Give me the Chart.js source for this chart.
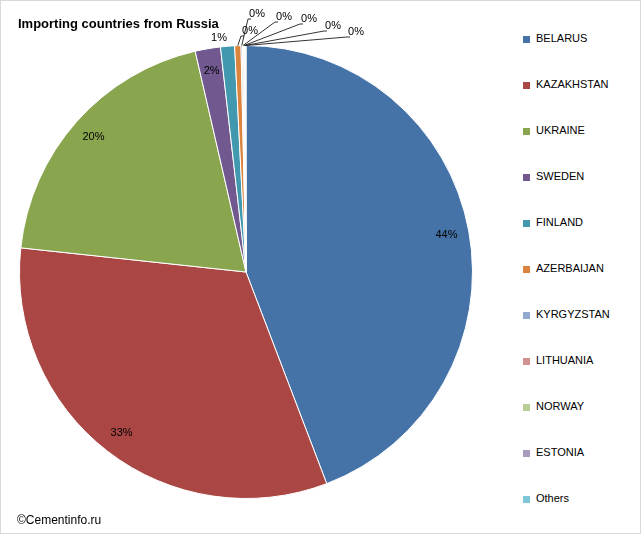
<!DOCTYPE html>
<html><head><meta charset="utf-8">
<script src="https://cdn.jsdelivr.net/npm/chart.js@4"></script>
<style>
body{margin:0;background:#fff;font-family:"Liberation Sans",Arial,sans-serif}
#frame{position:absolute;left:0;top:0;width:639px;height:532px;border:1px solid #d9d9d9}
#wrap{position:absolute;left:0;top:0;width:500px;height:534px}
#title{position:absolute;left:18px;top:16px;font-weight:bold;font-size:13px;color:#000}
#copy{position:absolute;left:17px;top:513px;font-size:12px;color:#000}
#legend{position:absolute;left:523px;top:32px;font-size:11px;color:#000}
.li{height:46px;display:flex;align-items:flex-start}
.sw{width:7px;height:7px;margin-top:4px;margin-right:6px}
</style></head><body>
<div id="frame"></div>
<div id="wrap"><canvas id="c"></canvas></div>
<div id="title">Importing countries from Russia</div>
<div id="copy">©Cementinfo.ru</div>
<div id="legend"></div>
<script>
const categories=["BELARUS","KAZAKHSTAN","UKRAINE","SWEDEN","FINLAND","AZERBAIJAN","KYRGYZSTAN","LITHUANIA","NORWAY","ESTONIA","Others"];
const values=[44.2,32.5,19.7,1.8,1.0,0.45,0.1,0.08,0.07,0.05,0.05];
const labels=["44%","33%","20%","2%","1%","0%","0%","0%","0%","0%","0%"];
const colors=["#4573A7","#AA4643","#89A54E","#71588F","#4198AF","#DB843D","#93A9CF","#D19392","#B9CD96","#A99BBD","#7FC6D8"];
const outside={4:[219,38],5:[250,31],6:[257,14],7:[284,17],8:[309,19],9:[333,26],10:[356,32]};
const lg=document.getElementById('legend');
categories.forEach((c,i)=>{lg.innerHTML+=`<div class="li"><div class="sw" style="background:${colors[i]}"></div><span>${c}</span></div>`});
const lab={id:'lab',afterDatasetsDraw(ch){
 const ctx=ch.ctx;ctx.save();ctx.font='11px "Liberation Sans", Arial';ctx.fillStyle='#000';ctx.textAlign='center';ctx.textBaseline='middle';
 ch.getDatasetMeta(0).data.forEach((a,i)=>{
  const mid=(a.startAngle+a.endAngle)/2;
  if(outside[i]){
   const [x,y]=outside[i];
   const ex=a.x+Math.cos(mid)*a.outerRadius, ey=a.y+Math.sin(mid)*a.outerRadius;
   if(i>=5){ctx.strokeStyle='#000';ctx.lineWidth=0.8;ctx.beginPath();ctx.moveTo(ex,ey);ctx.lineTo(x-9,y+5);ctx.lineTo(x-6,y+5);ctx.stroke();}
   ctx.fillText(labels[i],x,y);
  } else {
   const r=a.outerRadius*0.9;ctx.fillText(labels[i],a.x+Math.cos(mid)*r,a.y+Math.sin(mid)*r);
  }
 });ctx.restore();}};
new Chart(document.getElementById('c'),{type:'pie',
 data:{labels:categories,datasets:[{data:values,backgroundColor:colors,borderColor:'#fff',borderWidth:1}]},
 options:{responsive:true,maintainAspectRatio:false,animation:false,
  layout:{padding:{left:19,right:27,top:45,bottom:35}},
  plugins:{legend:{display:false},tooltip:{enabled:false}}},
 plugins:[lab]});
</script></body></html>
